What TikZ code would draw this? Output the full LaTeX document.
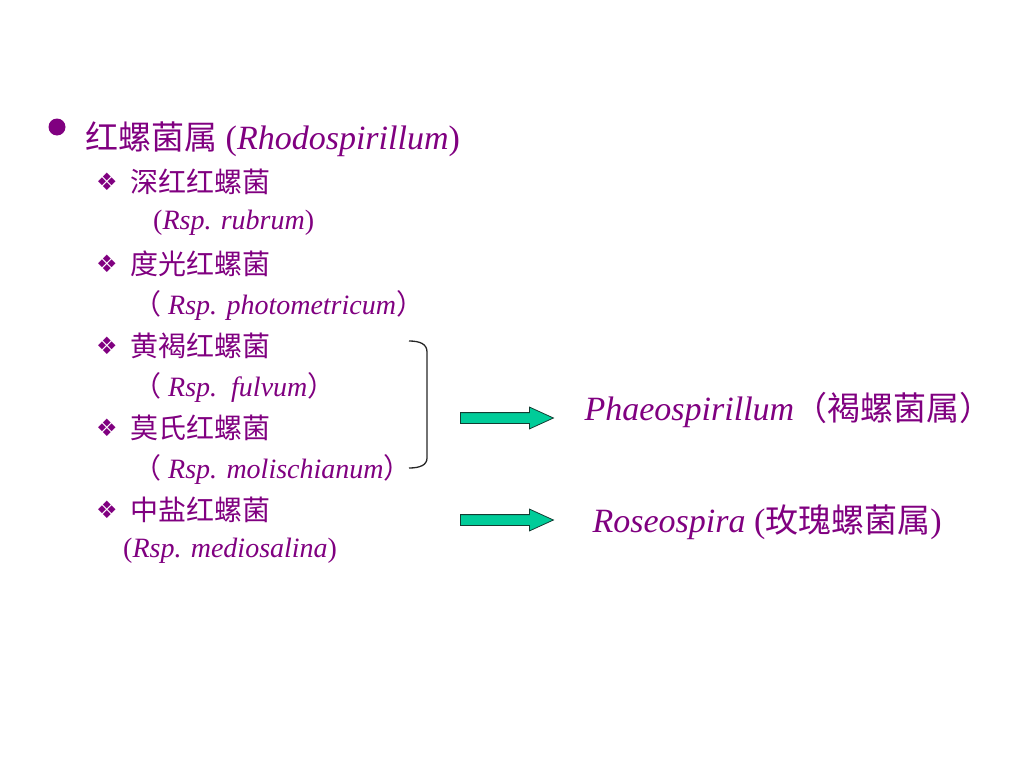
\documentclass[tikz,border=0pt]{standalone}
\usepackage{fontspec}
\setmainfont{Liberation Serif}
\newfontfamily\cjk{Noto Sans CJK SC}
\newfontfamily\symfont{DejaVu Sans}
\usepackage{xcolor}
\usetikzlibrary{positioning,shapes.arrows}
\definecolor{slidepurple}{RGB}{128,0,128}
\definecolor{arrowgreen}{RGB}{0,204,153}
\definecolor{arrowline}{RGB}{20,60,50}
\tikzset{
  item/.style={anchor=west, inner sep=0pt, text=slidepurple, font=\fontsize{28}{30}\selectfont},
  genus/.style={item, font=\fontsize{34}{36}\selectfont},
  diam/.style={inner sep=0pt, text=slidepurple, font=\symfont\fontsize{24}{26}\selectfont},
  fat/.style={single arrow, draw=arrowline, fill=arrowgreen, line width=0.8pt,
    minimum height=93pt, minimum width=21pt, inner xsep=0pt, inner ysep=5pt,
    single arrow head extend=5.5pt, single arrow tip angle=49, anchor=west},
}

\begin{document}
\begin{tikzpicture}[x=1pt,y=-1pt]
  \useasboundingbox (0,0) rectangle (1024,768);
  % Define nodes
  \node[circle, fill=slidepurple, inner sep=0pt, minimum size=17pt] (dot) at (57,127) {};
  \node[genus] (rsp) at (85,139) {{\cjk\fontsize{33}{35}\selectfont 红螺菌属} (\textit{Rhodospirillum})};
  \foreach \y/\n in {182/1,264/2,346/3,428/4,510/5}
    \node[diam] (d\n) at (107,\y) {❖};
  \node[item] (s1) at (130,182) {\cjk 深红红螺菌};
  \node[item] (l1) at (153,223) {(\textit{Rsp. rubrum})};
  \node[item] (s2) at (130,264) {\cjk 度光红螺菌};
  \node[item] (l2) at (133,305) {{\cjk （}\textit{ Rsp. photometricum}{\cjk ）}};
  \node[item] (s3) at (130,346) {\cjk 黄褐红螺菌};
  \node[item] (l3) at (133,387) {{\cjk （}\textit{ Rsp.\ \ fulvum}{\cjk ）}};
  \node[item] (s4) at (130,428) {\cjk 莫氏红螺菌};
  \node[item] (l4) at (133,469) {{\cjk （}\textit{ Rsp. molischianum}{\cjk ）}};
  \node[item] (s5) at (130,510) {\cjk 中盐红螺菌};
  \node[item] (l5) at (123,551) {(\textit{Rsp. mediosalina})};
  % brace and arrows
  \draw[line width=1.3pt, black!85] (409,341) .. controls (420,341) and (427,344) .. (427,352)
    -- (427,458) .. controls (427,465) and (420,468) .. (409,468);
  \node[fat] (a1) at (460,418) {};
  \node[fat] (a2) at (460,520) {};
  \node[genus, right=30pt of a1, yshift=8pt] (pha) {\textit{Phaeospirillum}{\cjk\fontsize{33}{35}\selectfont （褐螺菌属）}};
  \node[genus, right=38pt of a2, yshift=-2pt] (ros) {\textit{Roseospira} ({\cjk\fontsize{33}{35}\selectfont 玫瑰螺菌属})};
\end{tikzpicture}
\end{document}
